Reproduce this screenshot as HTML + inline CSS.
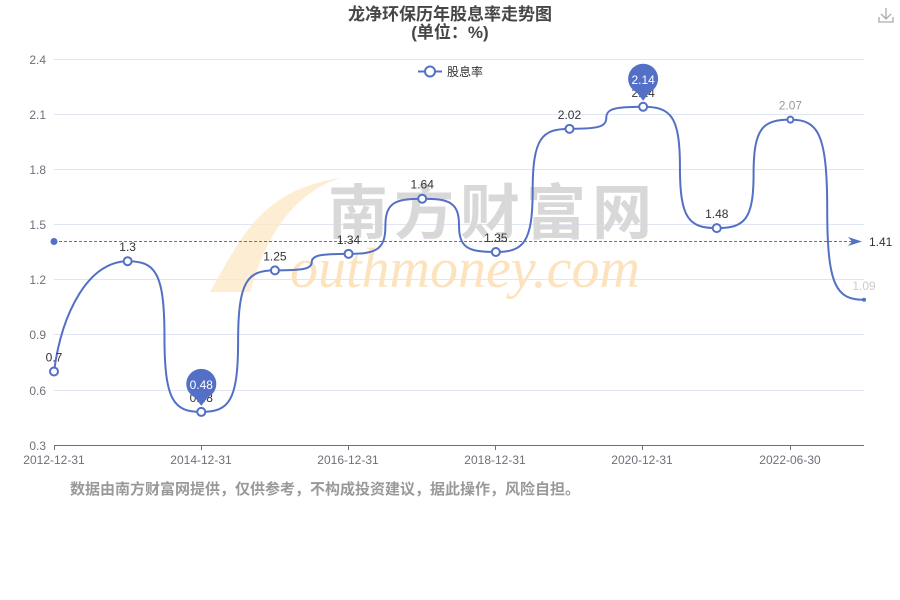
<!DOCTYPE html>
<html><head><meta charset="utf-8"><style>
body{margin:0;background:#fff;width:900px;height:600px;overflow:hidden}
svg{display:block;font-family:"Liberation Sans","Noto Sans CJK SC",sans-serif}
</style></head><body>
<svg id="s" width="900" height="600" viewBox="0 0 900 600">
<text x="450" y="20" text-anchor="middle" font-size="17" font-weight="bold" fill="#464646">龙净环保历年股息率走势图</text>
<text x="450" y="38" text-anchor="middle" font-size="17" font-weight="bold" fill="#464646">(单位：%)</text>
<g stroke="#e0e6f1" stroke-width="1">
<line x1="54" y1="59.5" x2="864" y2="59.5"/><line x1="54" y1="114.5" x2="864" y2="114.5"/><line x1="54" y1="169.5" x2="864" y2="169.5"/><line x1="54" y1="224.5" x2="864" y2="224.5"/><line x1="54" y1="279.5" x2="864" y2="279.5"/><line x1="54" y1="334.5" x2="864" y2="334.5"/><line x1="54" y1="390.5" x2="864" y2="390.5"/>
</g>
<line x1="54" y1="445.5" x2="864" y2="445.5" stroke="#6e7079"/>
<g stroke="#6e7079"><line x1="54.5" y1="445" x2="54.5" y2="450"/><line x1="201.5" y1="445" x2="201.5" y2="450"/><line x1="348.5" y1="445" x2="348.5" y2="450"/><line x1="495.5" y1="445" x2="495.5" y2="450"/><line x1="642.5" y1="445" x2="642.5" y2="450"/><line x1="790.5" y1="445" x2="790.5" y2="450"/></g>
<g font-size="12" fill="#6e7079" text-anchor="end">
<text x="46" y="64">2.4</text><text x="46" y="119">2.1</text><text x="46" y="174">1.8</text><text x="46" y="229">1.5</text><text x="46" y="284">1.2</text><text x="46" y="339">0.9</text><text x="46" y="395">0.6</text><text x="46" y="450">0.3</text>
</g>
<g font-size="12" fill="#6e7079" text-anchor="middle">
<text x="54" y="464">2012-12-31</text><text x="201" y="464">2014-12-31</text><text x="348" y="464">2016-12-31</text><text x="495" y="464">2018-12-31</text><text x="642" y="464">2020-12-31</text><text x="790" y="464">2022-06-30</text>
</g>
<path d="M210 292 C240 240 260 190 340 178 C290 195 265 240 250 292 Z" fill="#fde9c8" opacity="0.8"/>
<text x="328" y="234" font-size="60" fill="#d8d8d8" letter-spacing="6" font-weight="bold">南方财富网</text>
<text x="290" y="287" font-size="56" fill="#fde3bd" font-style="italic" font-family="Liberation Serif,serif">outhmoney.com</text>
<line x1="418" y1="71.5" x2="442" y2="71.5" stroke="#5470c6" stroke-width="2"/>
<circle cx="430" cy="71.5" r="5" fill="#fff" stroke="#5470c6" stroke-width="2"/>
<text x="447" y="76" font-size="12" fill="#333">股息率</text>
<line x1="54" y1="241.5" x2="856" y2="241.5" stroke="#5470c6" stroke-dasharray="3,2"/>
<circle cx="54" cy="241.5" r="3.5" fill="#5470c6"/>
<path d="M848 237 L862 241.5 L848 246 L852 241.5Z" fill="#5470c6"/>
<text x="869" y="246" font-size="12" fill="#333">1.41</text>
<path id="line" fill="none" stroke="#5470c6" stroke-width="2"/>
<g id="pts"></g>
<text x="70" y="494" font-size="15" fill="#999" font-weight="bold">数据由南方财富网提供，仅供参考，不构成投资建议，据此操作，风险自担。</text>
<g stroke="#aaa" fill="none" stroke-width="1.3"><path d="M886 8v11M881 14l5 5 5-5M879 17v5h14v-5"/></g>
</svg>
<script>
var xs=[],v=[0.7,1.3,0.48,1.25,1.34,1.64,1.35,2.02,2.14,1.48,2.07,1.09];
for(var i=0;i<12;i++)xs.push(54+i*73.64);
function Y(a){return 445-(a-0.3)*183.81;}
var d="M"+xs[0]+" "+Y(v[0]);
for(var i=0;i<11;i++){var x1=xs[i],x2=xs[i+1],y1=Y(v[i]),y2=Y(v[i+1]),xm=(x1+x2)/2,ym=(y1+y2)/2,h=xm-x1,dy=ym-y1;
if(i==0){d+=" C"+(x1+8)+" "+(y1-60)+" "+(x1+35)+" "+y2+" "+x2+" "+y2;continue;}
d+=" C"+(x1+0.75*h)+" "+y1+" "+xm+" "+(y1+0.15*dy)+" "+xm+" "+ym+" C"+xm+" "+(y2-0.15*dy)+" "+(x2-0.75*h)+" "+y2+" "+x2+" "+y2;}
document.getElementById("line").setAttribute("d",d);
var g=document.getElementById("pts"),h="";
var lab=["0.7","1.3","0.48","1.25","1.34","1.64","1.35","2.02","2.14","1.48","2.07","1.09"];
for(var i=0;i<12;i++){var x=xs[i],y=Y(v[i]);
if(i==11){h+='<circle cx="'+x+'" cy="'+y+'" r="2" fill="#5470c6"/>';h+='<text x="'+x+'" y="'+(y-10)+'" font-size="12" fill="#ccc" text-anchor="middle">'+lab[i]+'</text>';continue;}
h+='<circle cx="'+x+'" cy="'+y+'" r="'+(i==10?3:4)+'" fill="#fff" stroke="#5470c6" stroke-width="2"/>';
h+='<text x="'+x+'" y="'+(y-10)+'" font-size="12" fill="'+(i==10?'#999':'#333')+'" text-anchor="middle">'+lab[i]+'</text>';}
[[2,0.48],[8,2.14]].forEach(function(p){var x=xs[p[0]],y=Y(p[1])-28;
h+='<circle cx="'+x+'" cy="'+y+'" r="15" fill="#5470c6"/><path d="M'+(x-9)+' '+(y+10)+' L'+x+' '+(y+22)+' L'+(x+9)+' '+(y+10)+'Z" fill="#5470c6"/>';
h+='<text x="'+x+'" y="'+(y+5)+'" font-size="12" fill="#fff" text-anchor="middle">'+p[1]+'</text>';});
g.innerHTML=h;
</script>
</body></html>
